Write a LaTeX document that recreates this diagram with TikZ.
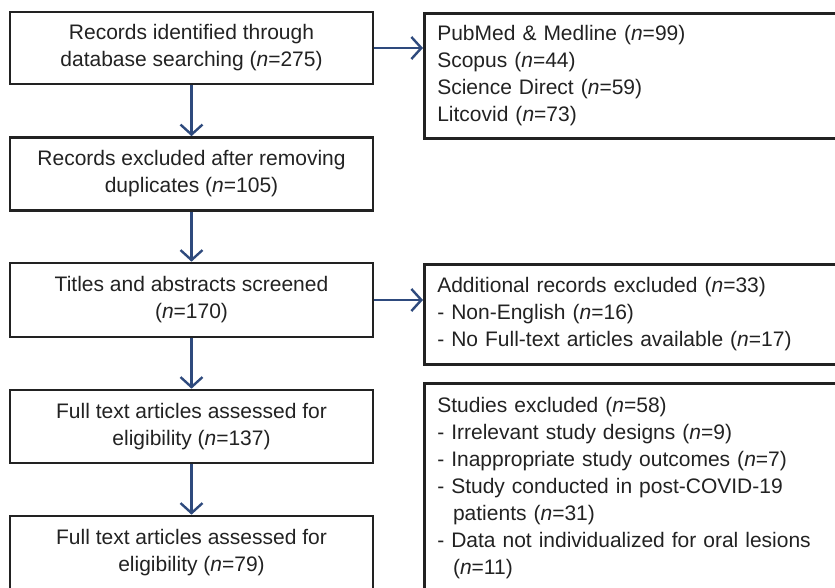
\documentclass[tikz,border=0pt]{standalone}
\usepackage{fontspec}
\setmainfont{Liberation Sans}
\usetikzlibrary{arrows.meta}
\definecolor{arr}{HTML}{2E4A7D}
\definecolor{txt}{HTML}{222222}
\begin{document}
\begin{tikzpicture}[x=1pt,y=-1pt,
  lbox/.style={draw=txt,line width=2.6pt,minimum width=363pt,align=center,text=txt,inner sep=0pt,
    font=\fontsize{21}{27}\selectfont},
  rbox/.style={draw=txt,line width=2.6pt,anchor=north west,text width=392pt,align=left,text=txt,
    inner xsep=13pt,inner ysep=0pt,font=\fontsize{21}{27}\selectfont},
  conn/.style={draw=arr,line width=2.4pt,-{Straight Barb[length=10pt,width=22pt,line width=2.4pt]}}]
\useasboundingbox (0,0) rectangle (835,588);
\node[lbox,minimum height=72pt] (b1) at (191.5,48) {Records identified through\\database searching (\textit{n}=275)};
\node[lbox,minimum height=73pt] (b2) at (191.5,174) {Records excluded after removing\\duplicates (\textit{n}=105)};
\node[lbox,minimum height=74pt] (b3) at (191.5,300) {Titles and abstracts screened\\(\textit{n}=170)};
\node[lbox,minimum height=73pt] (b4) at (191.5,426.5) {Full text articles assessed for\\eligibility (\textit{n}=137)};
\node[lbox,minimum height=74pt] (b5) at (191.5,553) {Full text articles assessed for\\eligibility (\textit{n}=79)};
\node[rbox,minimum height=125pt] (r1) at (423,12) {PubMed \& Medline (\textit{n}=99)\\Scopus (\textit{n}=44)\\Science Direct (\textit{n}=59)\\Litcovid (\textit{n}=73)};
\node[rbox,minimum height=100pt] (r2) at (423,263) {Additional records excluded (\textit{n}=33)\\- Non-English (\textit{n}=16)\\- No Full-text articles available (\textit{n}=17)};
\node[rbox,minimum height=209pt] (r3) at (423,382) {Studies excluded (\textit{n}=58)\\- Irrelevant study designs (\textit{n}=9)\\- Inappropriate study outcomes (\textit{n}=7)\\- Study conducted in post-COVID-19\\\hspace*{0.75em}patients (\textit{n}=31)\\- Data not individualized for oral lesions\\\hspace*{0.75em}(\textit{n}=11)};
\draw[conn] (b1) -- (b2);
\draw[conn] (b2) -- (b3);
\draw[conn] (b3) -- (b4);
\draw[conn] (b4) -- (b5);
\draw[conn] (b1.east) -- (r1.west |- b1.east);
\draw[conn] (b3.east) -- (r2.west |- b3.east);
\end{tikzpicture}
\end{document}
